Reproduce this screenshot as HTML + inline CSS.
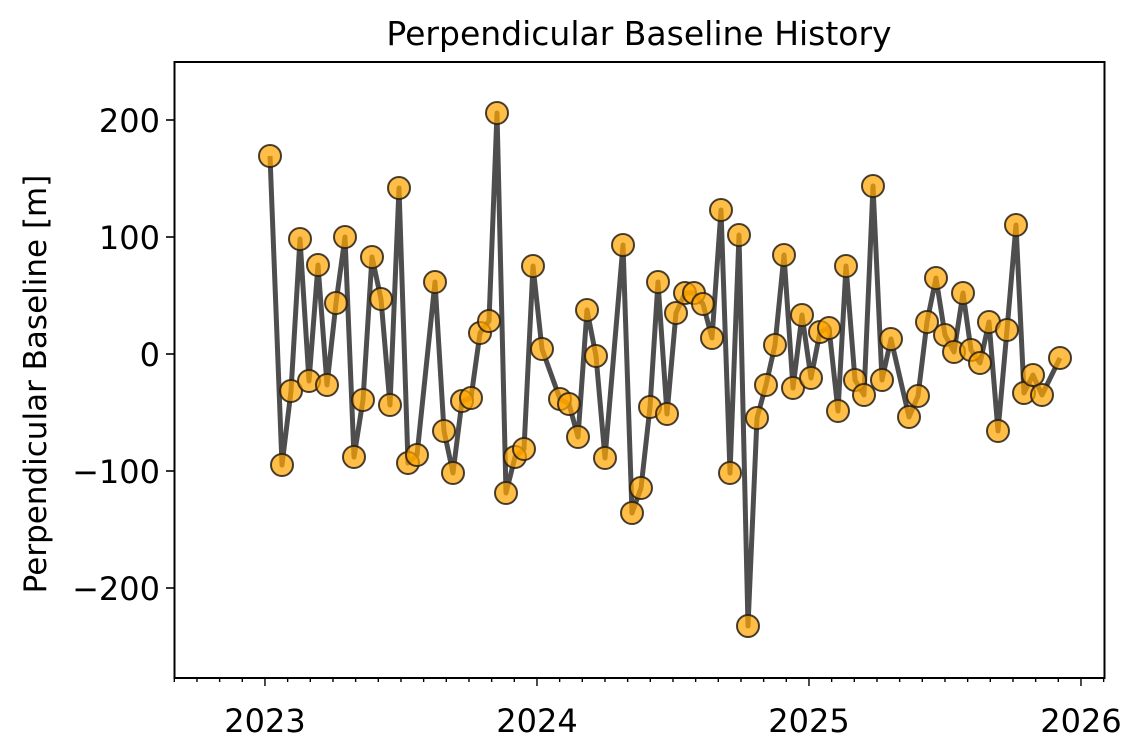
<!DOCTYPE html>
<html><head><meta charset="utf-8"><style>
html,body{margin:0;padding:0;background:#fff;}
svg text{font-family:"DejaVu Sans","Liberation Sans",sans-serif;fill:#000;}
</style></head><body>
<svg width="1144" height="750" viewBox="0 0 1144 750" xmlns="http://www.w3.org/2000/svg">
<rect width="1144" height="750" fill="#fff"/>
<text x="639" y="45" font-size="33" text-anchor="middle">Perpendicular Baseline History</text>
<g stroke="#000" stroke-width="1.6">
<line x1="174" y1="120" x2="166" y2="120"/>
<line x1="174" y1="237" x2="166" y2="237"/>
<line x1="174" y1="354" x2="166" y2="354"/>
<line x1="174" y1="471" x2="166" y2="471"/>
<line x1="174" y1="588" x2="166" y2="588"/>
</g>
<g font-size="32" text-anchor="end">
<text x="160" y="132">200</text>
<text x="160" y="249">100</text>
<text x="160" y="366">0</text>
<text x="160" y="483">−100</text>
<text x="160" y="600">−200</text>
</g>
<text transform="translate(46,384) rotate(-90)" font-size="31" text-anchor="middle">Perpendicular Baseline [m]</text>
<g stroke="#000" stroke-width="1.4" id="xt"></g>
<g font-size="32" text-anchor="middle">
<text x="265" y="732">2023</text>
<text x="537" y="732">2024</text>
<text x="809" y="732">2025</text>
<text x="1081" y="732">2026</text>
</g>
<polyline fill="none" stroke="#444" stroke-opacity="0.95" stroke-width="5" stroke-linejoin="round" id="ln"/>
<g id="mk"></g>
<rect x="174.5" y="62" width="930" height="616" fill="none" stroke="#000" stroke-width="2"/>
<script>
var P=[[270,156],[282,465],[291,391],[300,239],[309,381],[318,265],[327,385],[336,303],[345,237],[354,457],[363,400],[372,257],[381,299],[390,405],[399,188],[408,463],[417,455],[435,282],[444,431],[453,473],[462,401],[471,398],[480,333],[489,321],[497,113],[506,493],[515,457],[524,449],[533,266],[542,349],[560,399],[569,404],[578,437],[587,310],[596,356],[605,458],[623,245],[632,513],[641,488],[650,407],[658,282],[667,414],[676,313],[685,293],[694,293],[703,304],[712,338],[721,210],[730,473],[739,235],[748,626],[757,418],[766,385],[775,345],[784,255],[793,388],[802,315],[811,378],[820,332],[829,328],[838,411],[846,266],[855,380],[864,395],[873,186],[882,380],[891,339],[909,417],[918,396],[927,322],[936,278],[945,335],[954,352],[963,293],[971,350],[980,363],[989,322],[998,431],[1007,330],[1016,225],[1024,393],[1033,375],[1042,395],[1060,358]];
var ns="http://www.w3.org/2000/svg";
document.getElementById('ln').setAttribute('points',P.map(p=>p.join(',')).join(' '));
var mk=document.getElementById('mk');
P.forEach(p=>{var c=document.createElementNS(ns,'circle');c.setAttribute('cx',p[0]);c.setAttribute('cy',p[1]);c.setAttribute('r',11);c.setAttribute('fill','rgba(255,165,0,0.72)');c.setAttribute('stroke','rgba(40,30,20,0.85)');c.setAttribute('stroke-width','2');mk.appendChild(c);});
var xt=document.getElementById('xt');
for(var i=0;i<=41;i++){var x=174.3+i*22.667;if(x>1105)break;var maj=((i-4)%12===0);var l=document.createElementNS(ns,'line');l.setAttribute('x1',x);l.setAttribute('x2',x);l.setAttribute('y1',678);l.setAttribute('y2',maj?686:682);xt.appendChild(l);}
</script>
</svg>
</body></html>
